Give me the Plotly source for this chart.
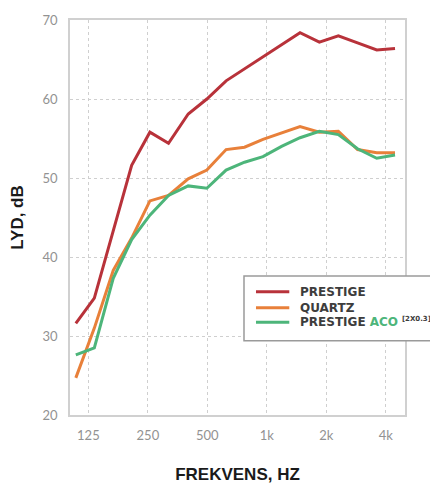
import plotly.graph_objects as go

freq = [108, 134, 167, 207, 256, 318, 400, 497, 622, 771, 956, 1187, 1472, 1844, 2300, 2877, 3598, 4452]
prestige = [31.6, 34.8, 43.3, 51.6, 55.8, 54.4, 58.1, 60.0, 62.3, 63.8, 65.3, 66.8, 68.4, 67.2, 68.0, 67.1, 66.2, 66.4]
quartz = [24.7, 31.0, 38.3, 42.4, 47.1, 47.8, 49.9, 51.0, 53.6, 53.9, 54.9, 55.7, 56.5, 55.8, 55.9, 53.6, 53.2, 53.2]
prestige_aco = [27.6, 28.5, 37.3, 42.2, 45.3, 47.8, 49.0, 48.7, 51.0, 52.0, 52.7, 54.0, 55.1, 55.9, 55.5, 53.7, 52.5, 52.9]

tick_vals = [125, 250, 500, 1000, 2000, 4000]
tick_text = ["125", "250", "500", "1k", "2k", "4k"]
y_ticks = [20, 30, 40, 50, 60, 70]

names = [
    "<b>PRESTIGE</b>",
    "<b>QUARTZ</b>",
    "<b>PRESTIGE <span style='color:#4db57a'>ACO</span></b> "
    "<sup><span style='font-size:7px'><b>[2X0.3]</b></span></sup>",
]
colors = ["#b8323a", "#e8803a", "#4db57a"]
series = [prestige, quartz, prestige_aco]

fig = go.Figure()
for name, col, vals in zip(names, colors, series):
    fig.add_trace(go.Scatter(x=freq, y=vals, mode="lines", name=name,
                             line=dict(color=col, width=3), showlegend=False))

# hand-drawn legend box (extends past right edge like the reference)
fig.add_shape(type="rect", xref="paper", yref="paper",
              x0=0.5194, x1=1.16, y0=0.1881, y1=0.3519,
              line=dict(color="#9a9a9a", width=1.5), fillcolor="white", layer="above")
rows_y = [0.3122, 0.2716, 0.2347]
for name, col, yy in zip(names, colors, rows_y):
    fig.add_shape(type="line", xref="paper", yref="paper",
                  x0=0.5552, x1=0.6546, y0=yy, y1=yy,
                  line=dict(color=col, width=3), layer="above")
    fig.add_annotation(xref="paper", yref="paper", x=0.6806, y=yy,
                       xanchor="left", yanchor="middle", showarrow=False,
                       text=name, font=dict(family="DejaVu Sans", size=12, color="#3d3d3d"))

fig.update_layout(
    width=430, height=478,
    margin=dict(l=62, r=33, t=12, b=71),
    plot_bgcolor="white", paper_bgcolor="white",
    font=dict(family="Lato", color="#929292", size=13),
    showlegend=False,
    xaxis=dict(
        type="log", range=[2.004, 3.699],
        tickvals=tick_vals, ticktext=tick_text,
        showgrid=True, gridcolor="#cfcfcf", griddash="dot", gridwidth=1,
        showline=True, linecolor="#d0d0d0", linewidth=1.5, mirror=True,
        ticks="", ticklabelstandoff=8, zeroline=False, automargin=False,
        title=dict(text="<b>FREKVENS, HZ</b>", standoff=26,
                   font=dict(family="Liberation Sans", size=17, color="#1a1a1a")),
    ),
    yaxis=dict(
        range=[20, 70], tickvals=y_ticks,
        showgrid=True, gridcolor="#cfcfcf", griddash="dot", gridwidth=1,
        showline=True, linecolor="#d0d0d0", linewidth=1.5, mirror=True,
        ticks="", ticklabelstandoff=8, zeroline=False, automargin=False,
        title=dict(text="<b>LYD, dB</b>", standoff=18,
                   font=dict(family="Liberation Sans", size=17, color="#1a1a1a")),
    ),
)

fig.write_html("out.html")
